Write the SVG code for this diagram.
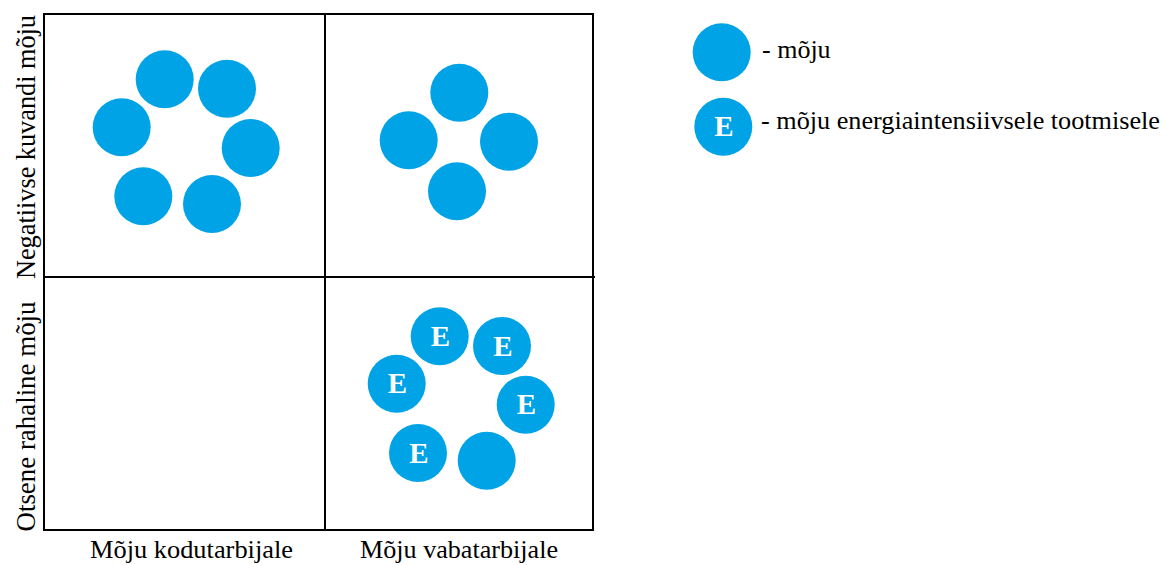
<svg xmlns="http://www.w3.org/2000/svg" width="1172" height="565" viewBox="0 0 1172 565">
<style>
.dot{fill:#00A3E5;}
.e{font-family:"Liberation Serif","Times New Roman",serif;font-weight:bold;font-size:29px;fill:#fff;text-anchor:middle;}
.lbl{font-family:"Liberation Serif","Times New Roman",serif;font-size:26px;fill:#000;}
.vl{font-family:"Liberation Serif","Times New Roman",serif;font-size:28px;fill:#000;text-anchor:middle;}
.grid{stroke:#000;stroke-width:2;fill:none;}
</style>
<rect width="1172" height="565" fill="#fff"/>
<g id="grid">
<rect class="grid" x="44" y="14" width="549" height="516"/>
<line class="grid" x1="325" y1="14" x2="325" y2="530"/>
<line class="grid" x1="44" y1="277" x2="595" y2="277"/>
</g>
<g id="q1">
<circle class="dot" cx="164.7" cy="79.3" r="29"/>
<circle class="dot" cx="227" cy="88.7" r="29"/>
<circle class="dot" cx="121.7" cy="127.3" r="29"/>
<circle class="dot" cx="250.7" cy="148" r="29"/>
<circle class="dot" cx="143.3" cy="196.3" r="29"/>
<circle class="dot" cx="212" cy="204" r="29"/>
</g>
<g id="q2">
<circle class="dot" cx="459.3" cy="92.7" r="29"/>
<circle class="dot" cx="408.7" cy="140.3" r="29"/>
<circle class="dot" cx="509" cy="141.7" r="29"/>
<circle class="dot" cx="457" cy="191.3" r="29"/>
</g>
<g id="q4">
<circle class="dot" cx="439.7" cy="336.3" r="29"/><text class="e" x="440.5" y="345.5">E</text>
<circle class="dot" cx="502" cy="346" r="29"/><text class="e" x="503" y="355.5">E</text>
<circle class="dot" cx="396.7" cy="383.7" r="29"/><text class="e" x="397.5" y="393">E</text>
<circle class="dot" cx="525.7" cy="404.7" r="29"/><text class="e" x="526.5" y="414">E</text>
<circle class="dot" cx="418" cy="453" r="29"/><text class="e" x="419" y="462.5">E</text>
<circle class="dot" cx="486.7" cy="460.7" r="29"/>
</g>
<g id="axis-labels">
<text class="vl" transform="translate(35,147) rotate(-90)" textLength="264" lengthAdjust="spacingAndGlyphs">Negatiivse kuvandi mõju</text>
<text class="vl" transform="translate(35,416.5) rotate(-90)" textLength="230" lengthAdjust="spacingAndGlyphs">Otsene rahaline mõju</text>
<text class="lbl" x="90" y="558" textLength="203" lengthAdjust="spacingAndGlyphs">Mõju kodutarbijale</text>
<text class="lbl" x="360" y="558" textLength="198" lengthAdjust="spacingAndGlyphs">Mõju vabatarbijale</text>
</g>
<g id="legend">
<circle class="dot" cx="721.7" cy="52.3" r="29"/>
<text class="lbl" x="762" y="57.5">- mõju</text>
<circle class="dot" cx="723.3" cy="126.7" r="29"/>
<text class="e" x="724" y="136">E</text>
<text class="lbl" x="761" y="128.5" textLength="399" lengthAdjust="spacingAndGlyphs">- mõju energiaintensiivsele tootmisele</text>
</g>
</svg>
